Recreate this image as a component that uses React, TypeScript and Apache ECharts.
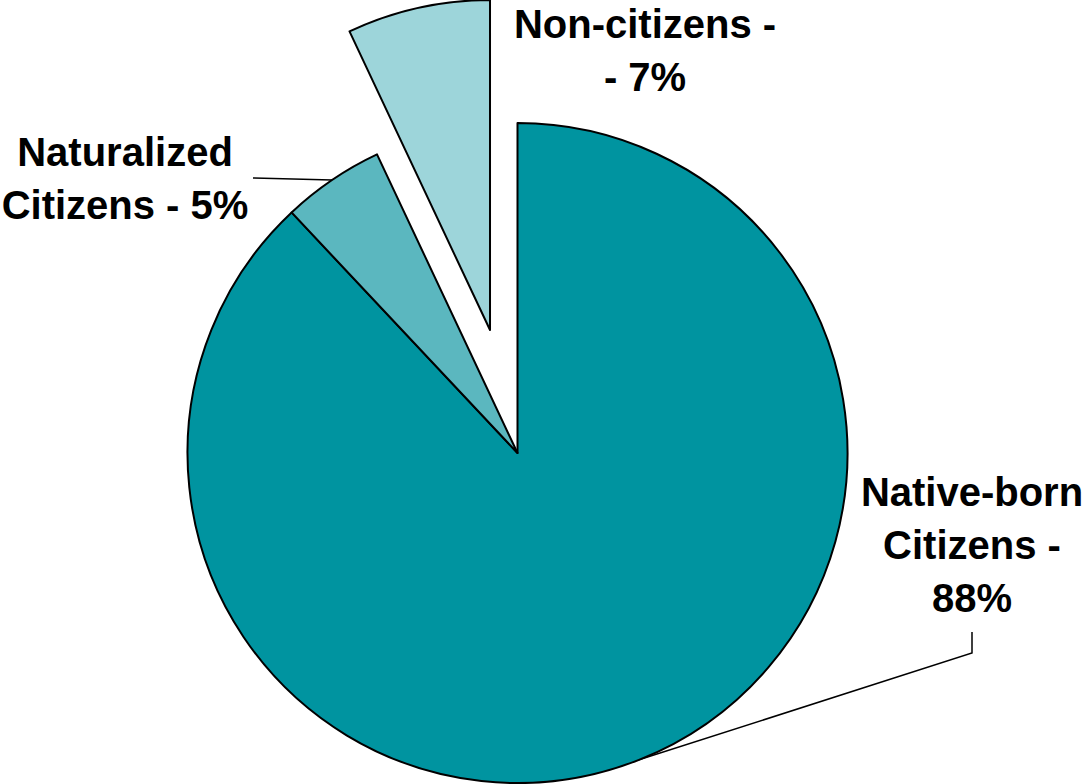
import React, { useEffect, useRef } from "react";
import * as echarts from "echarts";

const categories = ["Native-born Citizens", "Naturalized Citizens", "Non-citizens"];
const values = [88, 5, 7];
const labelTexts = ["Native-born\nCitizens -\n88%", "Naturalized\nCitizens - 5%", "Non-citizens -\n- 7%"];
const colors = ["#0094A0", "#5BB7BF", "#9DD5DA"];
const explodedIndex = 2;

const CX = 517.5;
const CY = 453;
const R = 330;
const OFFSET = 126;

// label placement (centers) and elbow points for leader lines
const labelPos: [number, number][] = [
  [972, 545],
  [125, 178],
  [645, 50],
];
const lineStarts: ([number, number] | null)[] = [[972, 632], [253, 178], null];
const lineElbows: ([number, number] | null)[] = [[972, 653], [253, 178], null];

function midAngle(idx: number): number {
  const total = values.reduce((a, b) => a + b, 0);
  let acc = 0;
  for (let i = 0; i < idx; i++) acc += values[i];
  return ((acc + values[idx] / 2) / total) * Math.PI * 2;
}

function midPoint(idx: number): [number, number] {
  const mid = midAngle(idx);
  return [CX + R * Math.sin(mid), CY - R * Math.cos(mid)];
}

const labelBase = {
  show: true,
  fontSize: 40,
  fontWeight: "bold",
  fontFamily: "Liberation Sans, Arial, sans-serif",
  color: "#000",
  lineHeight: 53,
  align: "center",
};

const blank = {
  itemStyle: { color: "rgba(0,0,0,0)", borderWidth: 0 },
  label: { show: false },
  labelLine: { show: false },
};

export default function App() {
  const ref = useRef<HTMLDivElement>(null);
  useEffect(() => {
    if (!ref.current) return;
    const chart = echarts.init(ref.current, undefined, { renderer: "svg" });

    // main pie: exploded slice left as an empty gap
    const mainData = categories.map((name, i) => {
      if (i === explodedIndex) return { name: name + " (gap)", value: values[i], ...blank };
      return {
        name,
        value: values[i],
        itemStyle: { color: colors[i], borderColor: "#000", borderWidth: 2 },
        labelLine: { show: lineStarts[i] !== null },
      };
    });

    // exploded pie: only the exploded slice is visible
    const explodedData = categories.map((name, i) => {
      if (i !== explodedIndex) return { name: name + " (gap)", value: values[i], ...blank };
      return {
        name,
        value: values[i],
        itemStyle: { color: colors[i], borderColor: "#000", borderWidth: 2 },
        labelLine: { show: false },
      };
    });

    const a = midAngle(explodedIndex);
    const ex = CX + OFFSET * Math.sin(a);
    const ey = CY - OFFSET * Math.cos(a);

    chart.setOption({
      animation: false,
      backgroundColor: "#ffffff",
      series: [
        {
          type: "pie",
          center: [CX, CY],
          radius: [0, R],
          startAngle: 90,
          clockwise: true,
          avoidLabelOverlap: false,
          emphasis: { disabled: true },
          silent: true,
          data: mainData,
          label: { ...labelBase, formatter: (p: any) => labelTexts[p.dataIndex] },
          labelLine: { show: true, length: 10, length2: 10, lineStyle: { color: "#000", width: 1.5 } },
          labelLayout: (params: any) => {
            const i = params.dataIndex;
            const out: any = { x: labelPos[i][0], y: labelPos[i][1], align: "center", verticalAlign: "middle" };
            if (lineStarts[i]) out.labelLinePoints = [lineStarts[i], lineElbows[i], midPoint(i)];
            return out;
          },
        },
        {
          type: "pie",
          center: [ex, ey],
          radius: [0, R],
          startAngle: 90,
          clockwise: true,
          avoidLabelOverlap: false,
          emphasis: { disabled: true },
          silent: true,
          data: explodedData,
          label: { ...labelBase, formatter: (p: any) => labelTexts[p.dataIndex] },
          labelLine: { show: false },
          labelLayout: (params: any) => {
            const i = params.dataIndex;
            return { x: labelPos[i][0], y: labelPos[i][1], align: "center", verticalAlign: "middle" };
          },
        },
      ],
    });
    return () => chart.dispose();
  }, []);
  return (
    <div
      ref={ref}
      style={{ position: "fixed", left: 0, top: 0, width: 1083, height: 784 }}
    />
  );
}
